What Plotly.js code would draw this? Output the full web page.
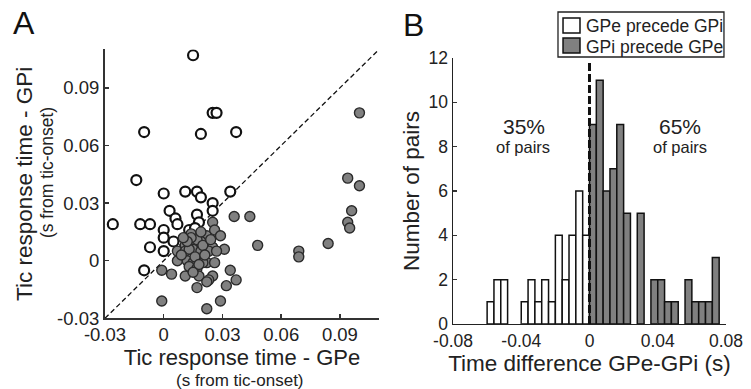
<!DOCTYPE html>
<html><head><meta charset="utf-8">
<script src="https://cdn.plot.ly/plotly-3.0.1.min.js"></script>
<style>html,body{margin:0;padding:0;background:#fff}</style>
</head><body><div id="chart" style="width:751px;height:389px"></div>
<script>
// Panel A: GPe precede GPi (open circles, above diagonal)
const openX = [0.015,-0.010,0.019,0.025,0.027,0.037,-0.014,0.000,0.011,0.017,0.019,0.034,0.025,0.025,0.017,0.018,0.013,0.003,0.006,0.007,-0.026,-0.012,-0.007,0.000,0.000,0.005,-0.007,0.000,-0.010,0.016];
const openY = [0.107,0.067,0.066,0.077,0.077,0.067,0.042,0.035,0.036,0.036,0.033,0.036,0.030,0.026,0.024,0.020,0.016,0.026,0.022,0.019,0.019,0.019,0.019,0.016,0.012,0.010,0.007,0.005,-0.005,0.017];
// Panel A: GPi precede GPe (gray circles, below diagonal)
const grayX = [0.014,0.019,0.022,0.025,0.026,0.029,0.011,0.015,0.019,0.022,0.025,0.031,0.007,0.011,0.015,0.019,0.023,0.027,0.007,0.012,0.015,0.019,0.022,0.013,0.017,0.020,0.018,0.025,0.034,0.037,0.032,0.017,0.023,0.022,0.029,0.022,0.004,-0.001,0.011,-0.001,0.036,0.044,0.048,0.100,0.094,0.100,0.096,0.094,0.095,0.084,0.069,0.069,0.017,0.020,0.013,0.024,0.009,0.016,0.021,0.018,0.014,0.019,0.012,0.015,0.026,0.010];
const grayY = [0.014,0.013,0.013,0.020,0.016,0.013,0.008,0.009,0.010,0.008,0.007,0.006,0.005,0.005,0.006,0.005,0.005,0.005,0.000,0.000,-0.001,0.000,-0.001,-0.003,-0.004,-0.001,-0.008,-0.008,-0.005,-0.010,-0.013,-0.014,-0.010,-0.011,-0.021,-0.025,-0.007,-0.005,-0.008,-0.021,0.023,0.023,0.008,0.077,0.043,0.039,0.026,0.020,0.017,0.009,0.005,0.002,0.011,0.008,0.006,0.011,0.003,0.002,0.003,-0.002,0.012,0.015,0.010,-0.006,-0.001,0.012];
const axisRangeA = [-0.03, 0.11];
const tickValsA = [-0.03, 0, 0.03, 0.06, 0.09];
const tickTextA = ['-0.03', '0', '0.03', '0.06', '0.09'];

// Panel B: histogram of time difference (bin left edges and counts)
const binWidth = 0.004;
const binLeftWhite = [-0.060,-0.056,-0.052,-0.040,-0.036,-0.032,-0.028,-0.024,-0.020,-0.016,-0.012,-0.008,-0.004];
const countWhite   = [1,2,2,1,2,1,2,1,4,2,4,6,4];
const binLeftGray  = [0.000,0.004,0.008,0.012,0.016,0.020,0.028,0.036,0.040,0.044,0.048,0.056,0.060,0.064,0.068,0.072];
const countGray    = [9,11,6,7,9,5,5,2,2,1,1,2,1,1,1,3];
const tickValsBx = [-0.08, -0.04, 0, 0.04, 0.08];
const tickTextBx = ['-0.08', '-0.04', '0', '0.04', '0.08'];
const tickValsBy = [0, 2, 4, 6, 8, 10, 12];
const seriesNames = ['GPe precede GPi', 'GPi precede GPe'];
const shareLeft = '35%';
const shareRight = '65%';

const FONT = 'Arial, "Liberation Sans", Helvetica, sans-serif';
const axisCol = '#333';
const WHITE = '#fff', GRAY = '#808080';

const traces = [
  {type:'scatter', mode:'lines', x:axisRangeA, y:axisRangeA, xaxis:'x', yaxis:'y',
   line:{color:'#111', width:1.3, dash:'5px,3px'}, showlegend:false, hoverinfo:'skip'},
  {type:'scatter', mode:'markers', x:openX, y:openY, xaxis:'x', yaxis:'y', showlegend:false,
   marker:{size:10, color:WHITE, line:{color:'#111', width:2.2}}},
  {type:'scatter', mode:'markers', x:grayX, y:grayY, xaxis:'x', yaxis:'y', showlegend:false,
   marker:{size:10, color:GRAY, line:{color:'#2a2a2a', width:1.4}}},
  {type:'bar', name:seriesNames[0], x:binLeftWhite, y:countWhite, width:binWidth, offset:0,
   xaxis:'x2', yaxis:'y2', showlegend:false, marker:{color:WHITE, line:{color:'#111', width:1.5}}},
  {type:'bar', name:seriesNames[1], x:binLeftGray, y:countGray, width:binWidth, offset:0,
   xaxis:'x2', yaxis:'y2', showlegend:false, marker:{color:GRAY, line:{color:'#111', width:1.5}}}
];

const baseAxis = {showgrid:false, zeroline:false, showline:true, linecolor:axisCol, linewidth:2,
  ticks:'inside', ticklen:4, tickwidth:1.5, tickcolor:axisCol, tickmode:'array',
  tickfont:{family:FONT, size:18.5, color:'#222'}, fixedrange:true};
const tickFontB = {family:FONT, size:17.5, color:'#222'};
const titleFont = {family:FONT, size:22.5, color:'#222'};
const C = {xref:'paper', yref:'paper', showarrow:false, xanchor:'center', yanchor:'middle'};

const layout = {
  width:751, height:389, margin:{l:0, r:0, t:0, b:0},
  paper_bgcolor:'#fff', plot_bgcolor:'rgba(0,0,0,0)',
  font:{family:FONT, color:'#222'},
  barmode:'overlay', bargap:0, showlegend:false,
  xaxis:Object.assign({}, baseAxis, {domain:[0.1398,0.5047], range:axisRangeA, anchor:'y',
    ticklabelstandoff:-2, tickvals:tickValsA, ticktext:tickTextA,
    title:{text:'Tic response time - GPe', font:{family:FONT, size:22, color:'#222'}, standoff:0}}),
  yaxis:Object.assign({}, baseAxis, {domain:[0.1817,0.8728], range:axisRangeA, anchor:'x',
    tickvals:tickValsA, ticktext:tickTextA,
    title:{text:'Tic response time - GPi', font:titleFont, standoff:18}}),
  xaxis2:Object.assign({}, baseAxis, {domain:[0.6032,0.9667], range:[-0.08,0.08], anchor:'y2',
    linewidth:1.5, linecolor:'#222', tickfont:tickFontB, ticklabelstandoff:1,
    tickvals:tickValsBx, ticktext:tickTextBx,
    title:{text:'Time difference GPe-GPi (s)', font:titleFont, standoff:4}}),
  yaxis2:Object.assign({}, baseAxis, {domain:[0.1671,0.8509], range:[0,12], anchor:'x2',
    linewidth:1.5, linecolor:'#222', tickfont:tickFontB,
    tickvals:tickValsBy,
    title:{text:'Number of pairs', font:titleFont, standoff:2}}),
  shapes:[
    {type:'line', xref:'x2', yref:'y2', x0:0, x1:0, y0:0, y1:11.8,
     line:{color:'#111', width:3, dash:'8px,3px'}},
    // legend box and swatches
    {type:'rect', xref:'paper', yref:'paper', x0:0.7430, x1:0.9640, y0:0.8535, y1:0.9692,
     fillcolor:'#fff', line:{color:'#222', width:1.3}},
    {type:'rect', xref:'paper', yref:'paper', x0:0.7497, x1:0.7723, y0:0.9152, y1:0.9537,
     fillcolor:WHITE, line:{color:'#111', width:1.5}},
    {type:'rect', xref:'paper', yref:'paper', x0:0.7497, x1:0.7723, y0:0.8638, y1:0.9023,
     fillcolor:GRAY, line:{color:'#111', width:1.5}}
  ],
  annotations:[
    Object.assign({}, C, {text:'A', x:0.032, y:0.940, font:{family:FONT, size:32, color:'#111'}}),
    Object.assign({}, C, {text:'B', x:0.550, y:0.935, font:{family:FONT, size:32, color:'#111'}}),
    Object.assign({}, C, {text:'(s from tic-onset)', x:0.3196, y:0.0231, font:{family:FONT, size:17, color:'#222'}}),
    Object.assign({}, C, {text:'(s from tic-onset)', x:0.0626, y:0.555, textangle:-90, font:{family:FONT, size:17.5, color:'#222'}}),
    Object.assign({}, C, {text:shareLeft, x:0.6977, y:0.676, font:{family:FONT, size:21, color:'#222'}}),
    Object.assign({}, C, {text:'of pairs', x:0.6964, y:0.622, font:{family:FONT, size:16.5, color:'#222'}}),
    Object.assign({}, C, {text:shareRight, x:0.9054, y:0.676, font:{family:FONT, size:21, color:'#222'}}),
    Object.assign({}, C, {text:'of pairs', x:0.9054, y:0.622, font:{family:FONT, size:16.5, color:'#222'}}),
    Object.assign({}, C, {text:seriesNames[0], x:0.7770, y:0.9332, xanchor:'left', font:{family:FONT, size:17.5, color:'#222'}}),
    Object.assign({}, C, {text:seriesNames[1], x:0.7770, y:0.8792, xanchor:'left', font:{family:FONT, size:17.5, color:'#222'}})
  ]
};

Plotly.newPlot('chart', traces, layout, {displayModeBar:false, staticPlot:true});
</script></body></html>
